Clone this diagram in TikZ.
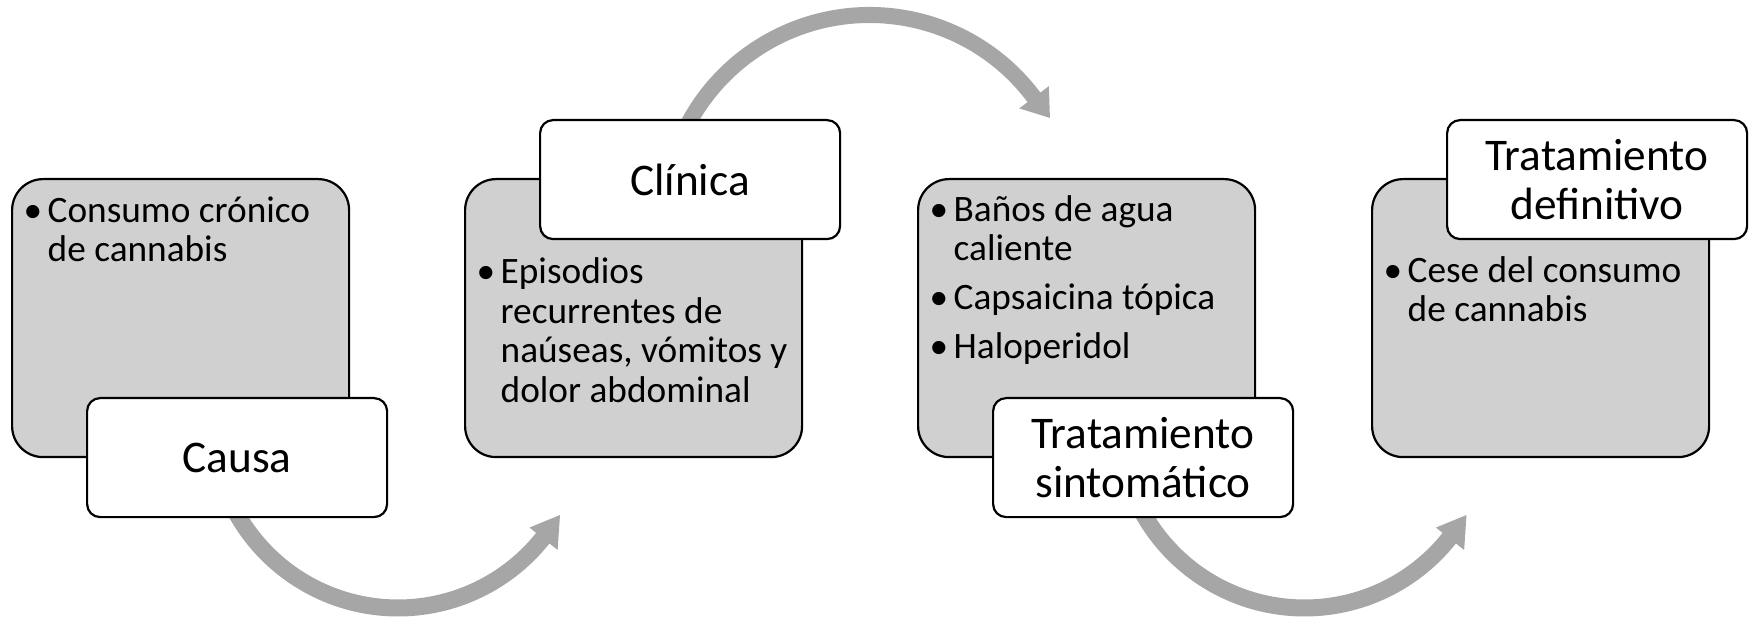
\documentclass[tikz,border=0pt]{standalone}
\usepackage{fontspec}
\setmainfont{Carlito}
\usetikzlibrary{calc}
\definecolor{boxgrey}{HTML}{D0D0D0}
\definecolor{arrowgrey}{HTML}{A6A6A6}
\newcommand\bul{\makebox[24pt][l]{\textbullet}}
\newcommand\ind{\hspace*{24pt}}
\newcommand\fst{\rule{0pt}{30pt}}
\tikzset{
 greybox/.style={draw=black, line width=2.2pt, fill=boxgrey, rounded corners=31pt,
   minimum width=337pt, minimum height=278pt, anchor=north west, inner sep=0pt},
 titlebox/.style={draw=black, line width=2.2pt, fill=white, rounded corners=13pt,
   minimum width=300pt, minimum height=119pt, anchor=north west, inner sep=0pt,
   align=center, font=\fontsize{45.3}{48.6}\selectfont},
 bodytext/.style={anchor=north west, inner sep=0pt, align=left,
   font=\fontsize{37.3}{39.8}\selectfont},
 arrowfill/.style={fill=arrowgrey, draw=none}
}
\begin{document}
\begin{tikzpicture}[x=1pt,y=1pt]
\useasboundingbox (0,0) rectangle (1754,619);
% arc arrows
\coordinate (c1) at (398,196);
\coordinate (c2) at (869.5,398.6);
\coordinate (c3) at (1304.5,196);
\fill[arrowfill] ($(c1)+(207:193.5)$) arc[start angle=207,end angle=321.5,radius=193.5]
  -- ($(c1)+(321.5:204)$) -- ($(c1)+(330.4:186.3)$) -- ($(c1)+(321.5:168)$)
  -- ($(c1)+(321.5:176.5)$) arc[start angle=321.5,end angle=207,radius=176.5] -- cycle;
\fill[arrowfill] ($(c2)+(155:213.4)$) arc[start angle=155,end angle=36.8,radius=213.4]
  -- ($(c2)+(36.8:224)$) -- ($(c2)+(29.6:207.5)$) -- ($(c2)+(36.8:187)$)
  -- ($(c2)+(36.8:197.4)$) arc[start angle=36.8,end angle=155,radius=197.4] -- cycle;
\fill[arrowfill] ($(c3)+(207:193.5)$) arc[start angle=207,end angle=321.5,radius=193.5]
  -- ($(c3)+(321.5:204)$) -- ($(c3)+(330.4:186.3)$) -- ($(c3)+(321.5:168)$)
  -- ($(c3)+(321.5:176.5)$) arc[start angle=321.5,end angle=207,radius=176.5] -- cycle;
% grey boxes
\node[greybox] (g1) at (11,441) {};
\node[greybox] (g2) at (464,441) {};
\node[greybox] (g3) at (917,441) {};
\node[greybox] (g4) at (1371,441) {};
% title boxes
\node[titlebox] (t1) at (86,222) {Causa};
\node[titlebox] (t2) at (539,500) {Clínica};
\node[titlebox] (t3) at (992,222) {Tratamiento\\sintomático};
\node[titlebox] (t4) at (1446,500) {Tratamiento\\definitivo};
% body texts
\node[bodytext] (b1) at (23.5,427) {\fst\bul Consumo crónico\\\ind de cannabis};
\node[bodytext] (b2) at (476.5,366) {\fst\bul Episodios\\\ind recurrentes de\\\ind naúseas, vómitos y\\\ind dolor abdominal};
\node[bodytext] (b3) at (929.5,428) {\fst\bul Baños de agua\\\ind caliente\\[9pt]\bul Capsaicina tópica\\[9pt]\bul Haloperidol};
\node[bodytext] (b4) at (1383.5,367) {\fst\bul Cese del consumo\\\ind de cannabis};
\end{tikzpicture}
\end{document}
